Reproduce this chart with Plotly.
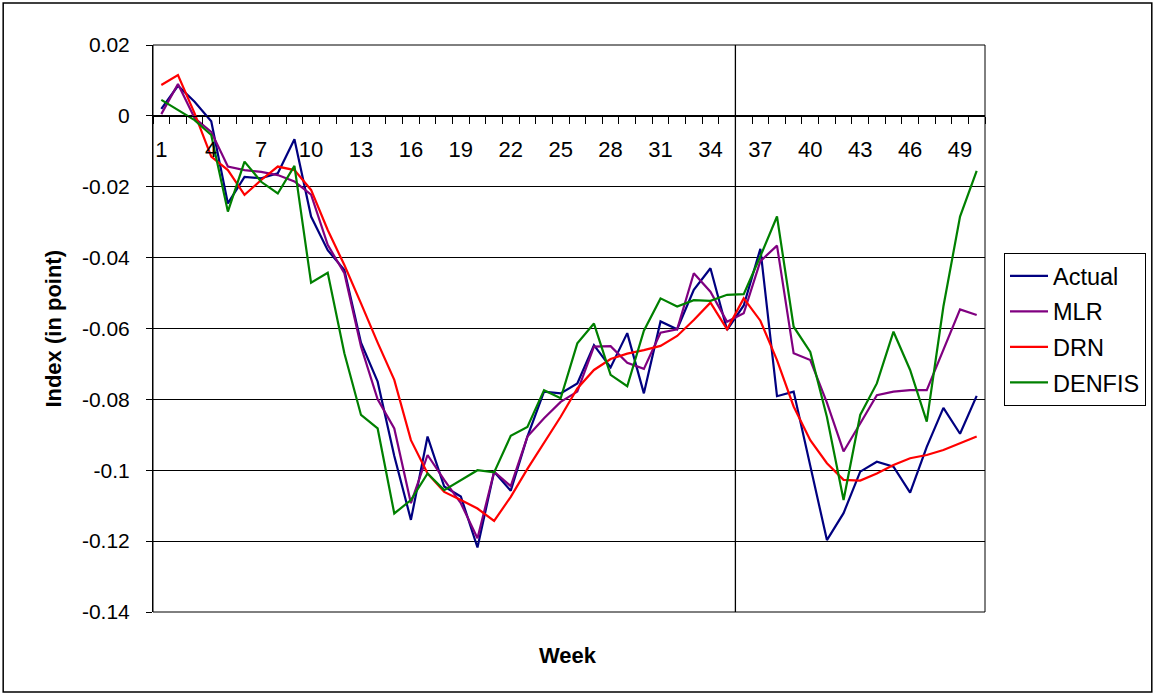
import plotly.graph_objects as go

# Weekly index values per model
weeks = list(range(1, 51))

actual = [0.002, 0.0085, 0.004, -0.0015, -0.0247, -0.0172, -0.0176, -0.0162, -0.0066, -0.0284,
          -0.0379, -0.0435, -0.064, -0.075, -0.096, -0.114, -0.0905, -0.1046, -0.1074, -0.1218,
          -0.1004, -0.1058, -0.0905, -0.0778, -0.0783, -0.0755, -0.0647, -0.071, -0.0613, -0.0783,
          -0.058, -0.0602, -0.0491, -0.043, -0.0604, -0.0535, -0.0375, -0.0791, -0.0778, -0.099,
          -0.1197, -0.1121, -0.1004, -0.0976, -0.099, -0.1063, -0.0934, -0.0824, -0.0897, -0.079]

mlr = [0.0005, 0.009, -0.0006, -0.0045, -0.0143, -0.0153, -0.0158, -0.0167, -0.0185, -0.0222,
       -0.0364, -0.0444, -0.0651, -0.080, -0.0882, -0.1093, -0.0957, -0.1027, -0.1093, -0.1192,
       -0.1004, -0.1045, -0.0905, -0.0853, -0.0807, -0.0778, -0.0651, -0.065, -0.0697, -0.0714,
       -0.0612, -0.0602, -0.0444, -0.0496, -0.0581, -0.0557, -0.041, -0.0366, -0.067, -0.0689,
       -0.0809, -0.0947, -0.0868, -0.0788, -0.0778, -0.0774, -0.0774, -0.0661, -0.0546, -0.0562]

drn = [0.0087, 0.0115, 0.0007, -0.0115, -0.0153, -0.0223, -0.0181, -0.0143, -0.0153, -0.0209,
       -0.0322, -0.0421, -0.0529, -0.064, -0.0745, -0.0915, -0.1009, -0.1061, -0.1084, -0.1108,
       -0.1143, -0.1075, -0.0996, -0.0924, -0.0849, -0.0769, -0.0717, -0.0686, -0.0671, -0.0661,
       -0.0649, -0.0621, -0.0576, -0.0527, -0.0602, -0.0515, -0.0578, -0.0689, -0.082, -0.0915,
       -0.098, -0.1027, -0.1029, -0.1009, -0.0985, -0.0966, -0.0957, -0.0943, -0.0924, -0.0905]

denfis = [0.0045, 0.0017, -0.0012, -0.0054, -0.027, -0.0129, -0.0186, -0.0219, -0.0141, -0.0471,
          -0.0443, -0.067, -0.0844, -0.0882, -0.1122, -0.1084, -0.1009, -0.1056, -0.1027, -0.1,
          -0.1006, -0.0903, -0.0878, -0.0774, -0.0797, -0.0642, -0.0586, -0.0731, -0.0763, -0.0606,
          -0.0515, -0.0538, -0.052, -0.0522, -0.0505, -0.0503, -0.0396, -0.0284, -0.0595, -0.0666,
          -0.085, -0.1084, -0.0844, -0.0755, -0.0609, -0.0717, -0.0863, -0.0538, -0.0284, -0.0155]

series_names = ["Actual", "MLR", "DRN", "DENFIS"]
series_colors = ["#000080", "#800080", "#FF0000", "#008000"]

x_tick_weeks = list(range(1, 51, 3))
y_tick_vals = [0.02, 0, -0.02, -0.04, -0.06, -0.08, -0.1, -0.12, -0.14]
y_tick_text = ["0.02", "0", "-0.02", "-0.04", "-0.06", "-0.08", "-0.1", "-0.12", "-0.14"]

FONT = "Liberation Sans, Arial, sans-serif"

fig = go.Figure()
for name, vals, col in zip(series_names, [actual, mlr, drn, denfis], series_colors):
    fig.add_trace(go.Scatter(x=weeks, y=vals, mode="lines", name=name, legendgroup=name,
                             line=dict(color=col, width=2.2)))

# plot-area geometry (pixels): left 153, right 986, top 45, bottom 612
W, H = 1157, 695
L, R, T, B = 153, 986, 45, 612
pw, ph = R - L, B - T
y_zero_paper = (B - (T + 0.02 * ph / 0.16)) / ph

fig.update_layout(
    width=W, height=H,
    margin=dict(l=L, r=W - R, t=T, b=H - B),
    paper_bgcolor="white", plot_bgcolor="white",
    font=dict(family=FONT, size=21, color="black"),
    showlegend=True,
    legend=dict(x=(1004 - L) / pw, y=(B - 253) / ph, xanchor="left", yanchor="top",
                bordercolor="black", borderwidth=1, bgcolor="white",
                itemwidth=38,
                font=dict(family=FONT, size=23.5, color="black"), tracegroupgap=2),
    xaxis=dict(range=[0.5, 50.5], anchor="free", position=y_zero_paper,
               tickmode="array", tickvals=x_tick_weeks, ticktext=[str(v) for v in x_tick_weeks],
               ticks="outside", ticklen=0, tickcolor="black",
               ticklabelstandoff=14,
               minor=dict(tickmode="linear", tick0=0.5, dtick=1, ticks="outside",
                          ticklen=7, tickcolor="black", showgrid=False),
               showline=True, linecolor="black", linewidth=1,
               showgrid=False, zeroline=False,
               tickfont=dict(family=FONT, size=22, color="black")),
    yaxis=dict(range=[-0.14, 0.02], tickmode="array", tickvals=y_tick_vals, ticktext=y_tick_text,
               ticks="outside", ticklen=6, tickcolor="black",
               ticklabelstandoff=12,
               showline=True, linecolor="black", linewidth=1,
               showgrid=True, gridcolor="black", gridwidth=1, zeroline=False,
               tickfont=dict(family=FONT, size=21, color="black")),
    shapes=[
        # plot area frame
        dict(type="rect", xref="paper", yref="paper", x0=0, x1=1, y0=0, y1=1,
             line=dict(color="black", width=1), layer="above"),
        # separator between week 35 and week 36
        dict(type="line", xref="x", yref="paper", x0=35.5, x1=35.5, y0=0, y1=1,
             line=dict(color="black", width=1.3), layer="below"),
        # outer chart border
        dict(type="rect", xref="paper", yref="paper",
             x0=(3 - L) / pw, x1=(1153 - L) / pw, y0=(B - 692) / ph, y1=(B - 3) / ph,
             line=dict(color="black", width=1.5), layer="above"),
    ],
    annotations=[
        dict(text="<b>Index (in point)</b>", textangle=-90, xref="paper", yref="paper",
             x=(53 - L) / pw, y=0.5, xanchor="center", yanchor="middle", showarrow=False,
             font=dict(family=FONT, size=22, color="black")),
        dict(text="<b>Week</b>", xref="paper", yref="paper",
             x=(568 - L) / pw, y=(B - 655) / ph, xanchor="center", yanchor="middle",
             showarrow=False, font=dict(family=FONT, size=22, color="black")),
    ],
)

fig.write_html("out.html")
